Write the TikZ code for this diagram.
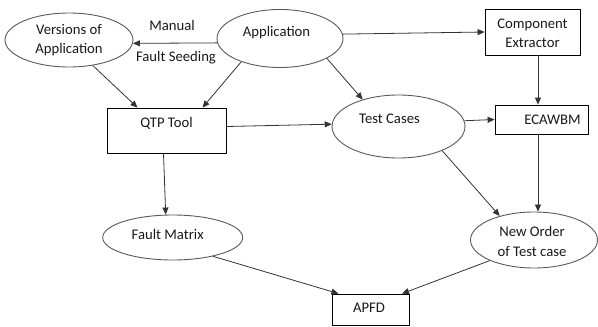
\documentclass[tikz,border=0pt]{standalone}
\usepackage{fontspec}
\setmainfont{Carlito}
\usetikzlibrary{shapes.geometric,arrows.meta}
\begin{document}
\begin{tikzpicture}[x=1pt,y=-1pt,
  every node/.style={font=\fontsize{14.7}{19.5}\selectfont, inner sep=0pt},
  oval/.style={ellipse, draw=black!65, line width=0.9pt},
  box/.style={rectangle, draw=black, line width=0.8pt},
  txt/.style={align=center, text=black!90},
  arr/.style={draw=black!80, line width=0.8pt, -{Triangle[length=7pt,width=6pt]}}
]
\useasboundingbox (0,0) rectangle (598,327);

% processes (ovals)
\node[oval, minimum width=128pt, minimum height=54pt,
      label={[txt]center:Versions of\\Application}] (ver) at (69,40) {};
\node[oval, minimum width=126pt, minimum height=58pt,
      label={[txt, xshift=-3.5pt, yshift=6pt]center:Application}] (app) at (280,38.5) {};
\node[oval, minimum width=133pt, minimum height=63pt,
      label={[txt, xshift=-9pt, yshift=8pt]center:Test Cases}] (tc) at (398.5,126.5) {};
\node[oval, minimum width=140pt, minimum height=45pt,
      label={[txt, xshift=-5pt, yshift=3.5pt]center:Fault Matrix}] (fm) at (172.7,237.5) {};
\node[oval, minimum width=127pt, minimum height=56pt,
      label={[txt, xshift=-2pt, yshift=-1.5pt]center:New Order\\of Test case}] (no) at (534,240) {};

% tools and results (boxes)
\node[box, minimum width=95pt, minimum height=46pt,
      label={[txt, yshift=-1.5pt]center:Component\\Extractor}] (ce) at (532.5,32) {};
\node[box, minimum width=93pt, minimum height=29pt,
      label={[txt, xshift=11pt]center:ECAWBM}] (ec) at (541.5,119.5) {};
\node[box, minimum width=119pt, minimum height=45pt,
      label={[txt, yshift=7.5pt]center:QTP Tool}] (qtp) at (166.5,130.5) {};
\node[box, minimum width=77pt, minimum height=31pt,
      label={[txt, xshift=-1.5pt, yshift=1.5pt]center:APFD}] (apfd) at (370.5,309.5) {};

% edge captions
\node[txt] (lblmanual) at (172,25) {Manual};
\node[txt] (lblseed) at (176,58) {Fault Seeding};

% connectors
\coordinate (ecin) at ([xshift=-3.5pt]ec.north);
\coordinate (ecout) at ([xshift=-3.5pt]ec.south);

\draw[arr] (app.184) -- (ver.357);
\draw[arr] (app.4) -- (ce.west);
\draw[arr] (ver.-47) -- ([xshift=-29pt]qtp.north);
\draw[arr] (app.211) -- ([xshift=36pt]qtp.north);
\draw[arr] (app.-23) -- (tc.143);
\draw[arr] ([yshift=4pt]qtp.east) -- (tc.178);
\draw[arr] (tc.5) -- (ec.west);
\draw[arr] (ecin |- ce.south) -- (ecin);
\draw[arr] (ecout) -- (ecout |- no.north);
\draw[arr] (tc.-29) -- (no.145);
\draw[arr] ([xshift=-3pt]qtp.south) -- ([xshift=-7pt]fm.north);
\draw[arr] (fm.-25) -- ([xshift=-32pt]apfd.north);
\draw[arr] (no.205) -- ([xshift=31.5pt]apfd.north);
\end{tikzpicture}
\end{document}
